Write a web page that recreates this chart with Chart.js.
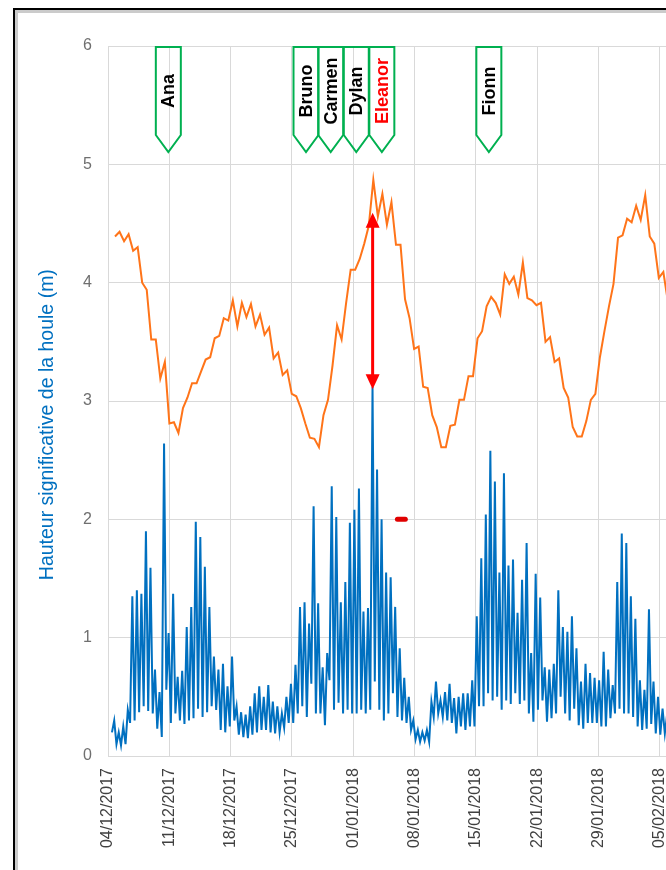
<!DOCTYPE html>
<html lang="fr">
<head>
<meta charset="utf-8">
<title>Hauteur significative de la houle</title>
<script src="https://cdn.jsdelivr.net/npm/chart.js@4.4.1/dist/chart.umd.min.js"></script>
<style>
  html, body { margin: 0; padding: 0; background: #fff; overflow: hidden; }
  body { width: 666px; height: 870px; position: relative; }
  #cadre { position: absolute; left: 13px; top: 8px; width: 800px; height: 900px;
           border-left: 2px solid #000; border-top: 2px solid #000; }
  #cadre-int { position: absolute; left: 0; top: 0; right: 0; bottom: 0;
               border-left: 3px solid #cbcbcb; border-top: 3px solid #cbcbcb; }
  #graphe { position: absolute; left: 0; top: 0; }
</style>
</head>
<body>
<div id="cadre"><div id="cadre-int"></div></div>
<canvas id="graphe" width="760" height="870"></canvas>
<script>
// Données

const DEBUT = new Date('2017-12-04T00:00');
const JOUR_MS = 86400000;

// Axe des dates : un trait par semaine
const ticksX = [0, 7, 14, 21, 28, 35, 42, 49, 56, 63, 70];
const ticksY = [0, 1, 2, 3, 4, 5, 6];
const titreY = 'Hauteur significative de la houle (m)';

// Houle (m) : creux et crêtes successifs, un point toutes les 6 h 12
const HOULE_DEBUT = '2017-12-04T10:48';
const HOULE_PAS_H = 6.21;
const houleCreux = [
  0.20, 0.10, 0.09, 0.10, 0.28, 0.30, 0.37, 0.42, 0.38, 0.36,
  0.23, 0.16, 0.56, 0.28, 0.36, 0.30, 0.27, 0.30, 0.32, 0.40,
  0.33, 0.37, 0.42, 0.39, 0.22, 0.20, 0.25, 0.30, 0.18, 0.16,
  0.15, 0.18, 0.20, 0.22, 0.22, 0.20, 0.19, 0.20, 0.24, 0.28,
  0.28, 0.36, 0.42, 0.33, 0.61, 0.36, 0.36, 0.26, 0.64, 0.39,
  0.45, 0.36, 0.39, 0.36, 0.36, 0.39, 0.36, 0.39, 0.63, 0.39,
  0.30, 0.36, 0.53, 0.33, 0.30, 0.28, 0.22, 0.14, 0.12, 0.13,
  0.12, 0.33, 0.36, 0.33, 0.30, 0.28, 0.19, 0.25, 0.22, 0.25,
  0.25, 0.42, 0.42, 0.53, 0.47, 0.50, 0.39, 0.47, 0.44, 0.53,
  0.44, 0.47, 0.36, 0.29, 0.39, 0.47, 0.29, 0.32, 0.36, 0.50,
  0.36, 0.30, 0.40, 0.26, 0.23, 0.28, 0.28, 0.28, 0.25, 0.25,
  0.32, 0.36, 0.40, 0.36, 0.36, 0.33, 0.25, 0.22, 0.23, 0.27,
  0.19, 0.18, 0.19, 0.20
];
const houleCretes = [
  0.30, 0.20, 0.25, 0.39, 1.35, 1.40, 1.37, 1.90, 1.59, 0.73,
  0.54, 2.64, 1.04, 1.37, 0.67, 0.72, 1.09, 1.26, 1.98, 1.85,
  1.60, 1.26, 0.84, 0.73, 0.78, 0.59, 0.84, 0.42, 0.37, 0.35,
  0.42, 0.53, 0.59, 0.50, 0.60, 0.46, 0.42, 0.36, 0.50, 0.61,
  0.77, 1.26, 1.30, 1.12, 2.11, 1.29, 0.75, 0.87, 2.28, 2.02,
  1.30, 1.47, 1.97, 2.08, 2.26, 1.22, 1.25, 3.12, 2.42, 2.00,
  1.55, 1.51, 1.26, 0.91, 0.66, 0.50, 0.30, 0.22, 0.20, 0.22,
  0.46, 0.63, 0.47, 0.54, 0.61, 0.49, 0.50, 0.53, 0.53, 0.64,
  1.18, 1.67, 2.04, 2.58, 2.32, 1.55, 2.39, 1.61, 1.66, 1.21,
  1.49, 1.80, 0.87, 1.54, 1.34, 0.75, 0.73, 0.78, 1.40, 1.09,
  1.05, 1.18, 0.91, 0.63, 0.78, 0.70, 0.66, 0.64, 0.88, 0.73,
  0.60, 1.47, 1.88, 1.80, 1.35, 1.16, 0.64, 0.56, 1.24, 0.63,
  0.50, 0.40, 0.35, 0.30
];

// Courbe orange : une valeur par pleine mer (toutes les 12 h 25)
const MAREE_DEBUT = '2017-12-04T19:12';
const MAREE_PAS_H = 12.42;
const hauteurMaree = [
  4.39, 4.43, 4.35, 4.41, 4.27, 4.30, 4.00, 3.94, 3.52, 3.52,
  3.19, 3.33, 2.81, 2.82, 2.73, 2.94, 3.03, 3.15, 3.15, 3.25,
  3.35, 3.37, 3.53, 3.55, 3.70, 3.68, 3.85, 3.63, 3.83, 3.71,
  3.82, 3.63, 3.73, 3.56, 3.62, 3.36, 3.41, 3.22, 3.26, 3.06,
  3.04, 2.94, 2.81, 2.69, 2.68, 2.61, 2.88, 3.01, 3.30, 3.64,
  3.52, 3.83, 4.11, 4.11, 4.20, 4.33, 4.48, 4.87, 4.56, 4.75,
  4.49, 4.68, 4.32, 4.32, 3.86, 3.70, 3.44, 3.46, 3.12, 3.11,
  2.88, 2.78, 2.61, 2.61, 2.79, 2.80, 3.01, 3.01, 3.21, 3.21,
  3.53, 3.59, 3.80, 3.88, 3.83, 3.73, 4.07, 3.99, 4.05, 3.90,
  4.17, 3.87, 3.85, 3.81, 3.83, 3.50, 3.54, 3.33, 3.36, 3.11,
  3.03, 2.78, 2.70, 2.70, 2.83, 3.01, 3.06, 3.37, 3.59, 3.80,
  3.99, 4.38, 4.40, 4.54, 4.51, 4.65, 4.53, 4.74, 4.39, 4.33,
  4.04, 4.09, 3.84
];

// Tempêtes nommées
const tempetes = ['Ana', 'Bruno', 'Carmen', 'Dylan', 'Eleanor', 'Fionn'];
const datesTempetes = ['2017-12-10T21:20', '2017-12-26T14:40', '2017-12-29T10:20',
                       '2018-01-01T08:25', '2018-01-04T06:30', '2018-01-16T11:45'];

// Seuil de 2 m et flèche d'Eleanor
const seuilDates = ['2018-01-06T01:10', '2018-01-06T22:50'];
const seuilValeur = 2;
const flecheDate = '2018-01-03T05:15';
const flecheBas = 3.10;
const flecheHaut = 4.59;

// Utilitaires
function enJours(str) {
  return (new Date(str) - DEBUT) / JOUR_MS;
}

function labelDate(v) {
  const d = new Date(DEBUT.getTime() + Math.round(v) * JOUR_MS);
  return `${String(d.getDate()).padStart(2, '0')}/${String(d.getMonth() + 1).padStart(2, '0')}/${d.getFullYear()}`;
}

function serieReguliere(debut, pasH, valeurs) {
  const t0 = enJours(debut);
  return valeurs.map((y, i) => ({ x: t0 + i * pasH / 24, y }));
}

function serieHoule() {
  const valeurs = [];
  houleCreux.forEach((c, i) => {
    valeurs.push(c);
    if (i < houleCretes.length) valeurs.push(houleCretes[i]);
  });
  return serieReguliere(HOULE_DEBUT, HOULE_PAS_H, valeurs);
}

// Titre de l'axe, bulles des tempêtes (pentagones verts) et flèche rouge
const annotations = {
  id: 'annotations',
  afterDatasetsDraw(chart) {
    const { ctx, chartArea, scales: { x, y } } = chart;
    ctx.save();

    // titre vertical
    ctx.save();
    ctx.translate(48, y.getPixelForValue(2.8));
    ctx.rotate(-Math.PI / 2);
    ctx.font = '19.5px "Liberation Sans", Arial, sans-serif';
    ctx.fillStyle = '#0070C0';
    ctx.textAlign = 'center';
    ctx.textBaseline = 'middle';
    ctx.fillText(titreY, 0, 0);
    ctx.restore();

    // flèche
    const fx = x.getPixelForValue(enJours(flecheDate));
    const fHaut = y.getPixelForValue(flecheHaut);
    const fBas = y.getPixelForValue(flecheBas);
    const tete = 15, demiTete = 7;
    ctx.strokeStyle = '#FF0000';
    ctx.fillStyle = '#FF0000';
    ctx.lineWidth = 3;
    ctx.beginPath();
    ctx.moveTo(fx, fHaut + tete - 1);
    ctx.lineTo(fx, fBas - tete + 1);
    ctx.stroke();
    ctx.beginPath();
    ctx.moveTo(fx, fHaut);
    ctx.lineTo(fx + demiTete, fHaut + tete);
    ctx.lineTo(fx - demiTete, fHaut + tete);
    ctx.closePath();
    ctx.fill();
    ctx.beginPath();
    ctx.moveTo(fx, fBas);
    ctx.lineTo(fx + demiTete, fBas - tete);
    ctx.lineTo(fx - demiTete, fBas - tete);
    ctx.closePath();
    ctx.fill();

    // bulles
    const haut = chartArea.top + 1;
    const epaule = haut + 88;
    const pointe = haut + 105;
    const demi = 12.5;
    ctx.lineWidth = 2;
    ctx.strokeStyle = '#00B050';
    ctx.lineJoin = 'miter';
    ctx.font = 'bold 18px "Liberation Sans", Arial, sans-serif';
    ctx.textAlign = 'center';
    ctx.textBaseline = 'middle';
    tempetes.forEach((nom, i) => {
      const cx = x.getPixelForValue(enJours(datesTempetes[i]));
      ctx.beginPath();
      ctx.moveTo(cx - demi, haut);
      ctx.lineTo(cx + demi, haut);
      ctx.lineTo(cx + demi, epaule);
      ctx.lineTo(cx, pointe);
      ctx.lineTo(cx - demi, epaule);
      ctx.closePath();
      ctx.stroke();

      ctx.save();
      ctx.translate(cx + 1, (haut + epaule) / 2);
      ctx.rotate(-Math.PI / 2);
      ctx.fillStyle = nom === 'Eleanor' ? '#FF0000' : '#000000';
      ctx.fillText(nom, 0, 0);
      ctx.restore();
    });
    ctx.restore();
  }
};

// Graphique
const grille = '#D9D9D9';

new Chart(document.getElementById('graphe'), {
  type: 'line',
  data: {
    datasets: [
      {
        label: 'Pleine mer',
        data: serieReguliere(MAREE_DEBUT, MAREE_PAS_H, hauteurMaree),
        borderColor: '#FF7419',
        borderWidth: 2,
        pointRadius: 0,
        tension: 0
      },
      {
        label: 'Hauteur significative de la houle',
        data: serieHoule(),
        borderColor: '#0070C0',
        borderWidth: 2,
        pointRadius: 0,
        tension: 0
      },
      {
        label: 'Seuil',
        data: seuilDates.map(d => ({ x: enJours(d), y: seuilValeur })),
        borderColor: '#E00000',
        borderWidth: 5,
        borderCapStyle: 'round',
        pointRadius: 0
      }
    ]
  },
  options: {
    responsive: false,
    animation: false,
    layout: { padding: { left: 0, right: 39, top: 46, bottom: 0 } },
    plugins: {
      legend: { display: false },
      tooltip: { enabled: false }
    },
    scales: {
      x: {
        type: 'linear',
        min: ticksX[0],
        max: ticksX[ticksX.length - 1],
        afterFit: (s) => { s.height = 114; },
        afterBuildTicks: (s) => { s.ticks = ticksX.map(v => ({ value: v })); },
        ticks: {
          autoSkip: false,
          maxRotation: 90,
          minRotation: 90,
          padding: 12,
          color: '#404040',
          font: { family: '"Liberation Sans", Arial, sans-serif', size: 16 },
          callback: labelDate
        },
        grid: { color: grille, drawTicks: false },
        border: { color: grille }
      },
      y: {
        min: ticksY[0],
        max: ticksY[ticksY.length - 1],
        afterFit: (s) => { s.width = 108; },
        afterBuildTicks: (s) => { s.ticks = ticksY.map(v => ({ value: v })); },
        ticks: {
          padding: 16,
          color: '#6F6F6F',
          font: { family: '"Liberation Sans", Arial, sans-serif', size: 16 }
        },
        grid: { color: grille, drawTicks: false },
        border: { color: grille }
      }
    }
  },
  plugins: [annotations]
});
</script>
</body>
</html>
